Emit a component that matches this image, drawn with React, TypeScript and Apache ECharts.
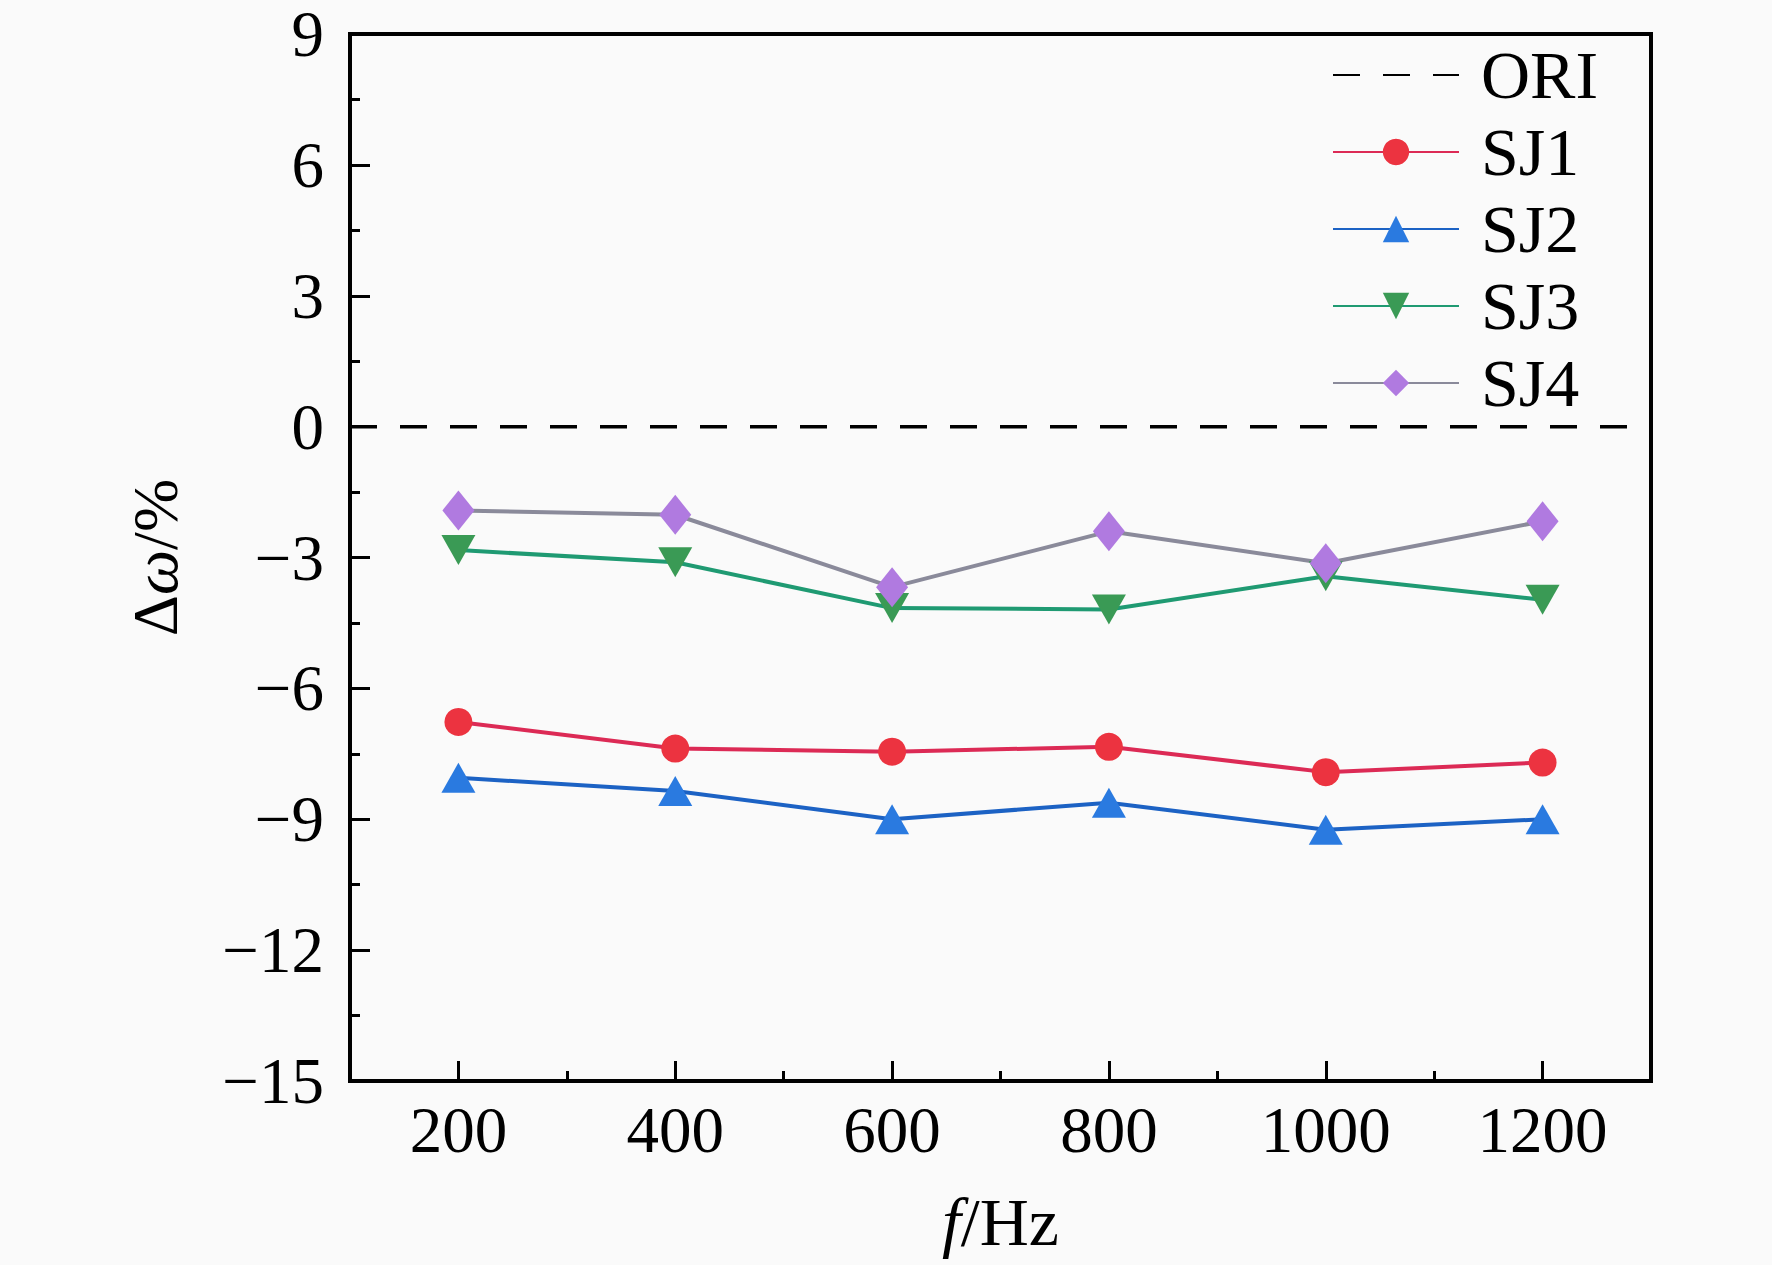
import React, { useEffect, useRef } from "react";
import * as echarts from "echarts";

const freq = [200, 400, 600, 800, 1000, 1200];
const majorXTicks = [200, 400, 600, 800, 1000, 1200];
const minorXTicks = [300, 500, 700, 900, 1100];
const oriX = [100, 1300];
const oriY = [0, 0];
const sj1 = [-6.77, -7.38, -7.45, -7.34, -7.92, -7.7];
const sj2 = [-8.05, -8.35, -9.0, -8.62, -9.24, -9.0];
const sj3 = [-2.83, -3.11, -4.16, -4.19, -3.43, -3.97];
const sj4 = [-1.92, -2.02, -3.68, -2.4, -3.13, -2.17];

const FONT = "'Liberation Serif', 'Times New Roman', Times, serif";

const pairs = (xs: number[], ys: number[]) => xs.map((x, i) => [x, ys[i]]);

export default function App() {
  const ref = useRef<HTMLDivElement>(null);
  useEffect(() => {
    document.body.style.margin = "0";
    if (!ref.current) return;
    const chart = echarts.init(ref.current, null, { renderer: "svg" });
    const minus = (v: number) => String(v).replace("-", "\u2212");
    const lineSeries = (
      name: string,
      ys: number[],
      lineColor: string,
      markColor: string,
      symbol: string,
      size: any,
      rotate = 0
    ) => ({
      name,
      type: "line",
      data: pairs(freq, ys),
      symbol,
      symbolSize: size,
      symbolRotate: rotate,
      lineStyle: { color: lineColor, width: 4 },
      itemStyle: { color: markColor },
      z: 3,
    });
    chart.setOption({
      animation: false,
      backgroundColor: "#fafafa",
      grid: {
        left: 350,
        right: 121,
        top: 34,
        bottom: 184,
        show: true,
        borderColor: "#000",
        borderWidth: 4,
        backgroundColor: "transparent",
      },
      legend: {
        orient: "vertical",
        left: 1327,
        top: 36,
        itemWidth: 126,
        itemHeight: 33,
        itemGap: 9,
        data: ["ORI", "SJ1", "SJ2", "SJ3", "SJ4"],
        textStyle: {
          fontFamily: FONT,
          fontSize: 68,
          color: "#000",
          lineHeight: 68,
          padding: [0, 0, 0, 17],
        },
      },
      xAxis: [
        {
          type: "value",
          min: 100,
          max: 1300,
          position: "bottom",
          axisLine: { show: true, onZero: false, lineStyle: { color: "#000", width: 4 } },
          axisTick: {
            show: true,
            inside: true,
            length: 20,
            customValues: majorXTicks,
            lineStyle: { color: "#000", width: 3 },
          },
          axisLabel: {
            customValues: majorXTicks,
            fontFamily: FONT,
            fontSize: 65,
            color: "#000",
            margin: 16,
            formatter: (v: number) => String(v),
          },
          splitLine: { show: false },
          name: "{i|f}/Hz",
          nameLocation: "middle",
          nameGap: 107,
          nameTextStyle: {
            fontFamily: FONT,
            fontSize: 68,
            color: "#000",
            rich: {
              i: { fontFamily: FONT, fontSize: 68, fontStyle: "italic", color: "#000" },
            },
          },
        },
        {
          type: "value",
          min: 100,
          max: 1300,
          position: "bottom",
          axisLine: { show: false, onZero: false },
          axisTick: {
            show: true,
            inside: true,
            length: 10,
            customValues: minorXTicks,
            lineStyle: { color: "#000", width: 3 },
          },
          axisLabel: { show: false },
          splitLine: { show: false },
        },
      ],
      yAxis: {
        type: "value",
        min: -15,
        max: 9,
        interval: 3,
        axisLine: { show: true, onZero: false, lineStyle: { color: "#000", width: 4 } },
        axisTick: { show: true, inside: true, length: 20, lineStyle: { color: "#000", width: 3 } },
        minorTick: { show: true, splitNumber: 2, length: 10, lineStyle: { color: "#000", width: 3 } },
        axisLabel: {
          fontFamily: FONT,
          fontSize: 65,
          lineHeight: 50,
          color: "#000",
          margin: 26,
          formatter: (v: number) => minus(v),
        },
        splitLine: { show: false },
        name: "\u0394{i|\u03c9}/%",
        nameLocation: "middle",
        nameGap: 163,
        nameRotate: 90,
        nameTextStyle: {
          fontFamily: FONT,
          fontSize: 64,
          color: "#000",
          rich: {
            i: { fontFamily: FONT, fontSize: 64, fontStyle: "italic", color: "#000" },
          },
        },
      },
      series: [
        {
          name: "ORI",
          type: "line",
          data: pairs(oriX, oriY),
          symbol: "none",
          lineStyle: { color: "#000", width: 3.5, type: [27, 23] },
          itemStyle: { color: "rgba(0,0,0,0)" },
          z: 2,
        },
        lineSeries("SJ1", sj1, "#dc2a55", "#ec3340", "circle", 28),
        lineSeries("SJ2", sj2, "#1c62c4", "#2a7ae0", "triangle", [34, 30]),
        lineSeries("SJ3", sj3, "#1f9a72", "#3a9a55", "triangle", [34, 30], 180),
        lineSeries("SJ4", sj4, "#8a8a9a", "#b07ae0", "diamond", [32, 40]),
      ],
    });
    return () => chart.dispose();
  }, []);
  return <div ref={ref} style={{ width: 1772, height: 1265 }} />;
}
